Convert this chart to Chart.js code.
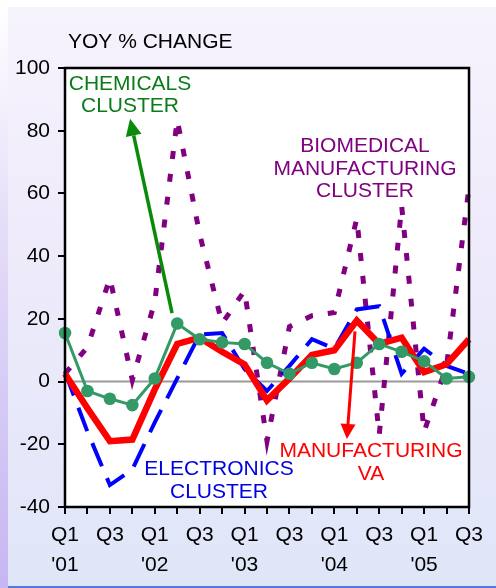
<!DOCTYPE html>
<html>
<head>
<meta charset="utf-8">
<script src="https://cdn.jsdelivr.net/npm/chart.js@4.4.0/dist/chart.umd.min.js"></script>
<style>
  html, body { margin: 0; padding: 0; }
  body {
    width: 496px; height: 588px; overflow: hidden; position: relative;
    background: #ffffff;
  }
  #bg {
    position: absolute; left: 8px; top: 7px; right: 0; bottom: 0;
    background: linear-gradient(to bottom, #f6f3fd 0%, #efebfb 40%, #dfe6f8 100%);
    border-bottom: 2px solid #5478e0;
  }
  #strip {
    position: absolute; left: 0; top: 0; width: 8px; bottom: 0;
    background: linear-gradient(to bottom, #ffffff 0%, #e4dcf8 40%, #c6b6f2 100%);
  }
  canvas { display: block; position: absolute; left: 0; top: 0; }
</style>
</head>
<body>
<div id="strip"></div>
<div id="bg"></div>
<canvas id="myChart" width="496" height="588"></canvas>
<script>
var quarters = ["Q1 '01", "Q2 '01", "Q3 '01", "Q4 '01", "Q1 '02", "Q2 '02", "Q3 '02", "Q4 '02",
                "Q1 '03", "Q2 '03", "Q3 '03", "Q4 '03", "Q1 '04", "Q2 '04", "Q3 '04", "Q4 '04",
                "Q1 '05", "Q2 '05", "Q3 '05"];
var chemicals = [15.5, -3, -5.5, -7.5, 1, 18.5, 13.5, 12.5, 12, 6, 2.5, 6, 4, 6, 12, 9.5, 6.5, 1, 1.5];
var manufacturingVA = [2.5, -8.5, -19, -18.5, -2.5, 12, 14, 9.5, 5.5, -6, 1, 8.5, 10, 19.5, 12, 14, 3, 5.5, 13.5];
var electronics = [3, -16, -33, -28, -13, 1, 15, 15.5, 4, -3, 5, 13.5, 10.5, 23, 24, 2.5, 10.5, 5, 2.5];
var biomedical = [2.5, 11, 33, 0.5, 25.5, 83.5, 47, 18.5, 29, -19, 17.5, 21, 22, 52, -17, 56, -16, 5, 62];
var yTicks = [-40, -20, 0, 20, 40, 60, 80, 100];

var FONT = '"Liberation Sans", Arial, sans-serif';

function drawArrow(ctx, x1, y1, x2, y2, color, width, headLen, headW) {
  var ang = Math.atan2(y2 - y1, x2 - x1);
  var bx = x2 - headLen * Math.cos(ang), by = y2 - headLen * Math.sin(ang);
  ctx.save();
  ctx.strokeStyle = color;
  ctx.fillStyle = color;
  ctx.lineWidth = width;
  ctx.beginPath();
  ctx.moveTo(x1, y1);
  ctx.lineTo(bx, by);
  ctx.stroke();
  ctx.beginPath();
  ctx.moveTo(x2, y2);
  ctx.lineTo(bx + headW / 2 * Math.sin(ang), by - headW / 2 * Math.cos(ang));
  ctx.lineTo(bx - headW / 2 * Math.sin(ang), by + headW / 2 * Math.cos(ang));
  ctx.closePath();
  ctx.fill();
  ctx.restore();
}

function drawLines(ctx, lines, cx, cy, color) {
  ctx.save();
  ctx.font = '21px ' + FONT;
  ctx.fillStyle = color;
  ctx.textAlign = 'center';
  ctx.textBaseline = 'middle';
  lines.forEach(function (t, i) { ctx.fillText(t, cx, cy + i * 22.5); });
  ctx.restore();
}

var framePlugin = {
  id: 'frame',
  beforeDraw: function (chart) {
    var ctx = chart.ctx, a = chart.chartArea;
    ctx.save();
    ctx.fillStyle = '#ffffff';
    ctx.fillRect(a.left, a.top, a.right - a.left, a.bottom - a.top);
    ctx.restore();
  },
  beforeDatasetsDraw: function (chart) {
    var ctx = chart.ctx, a = chart.chartArea;
    var y0 = chart.scales.y.getPixelForValue(0);
    ctx.save();
    ctx.strokeStyle = '#999999';
    ctx.lineWidth = 2;
    ctx.beginPath();
    ctx.moveTo(a.left, y0);
    ctx.lineTo(a.right, y0);
    ctx.stroke();
    ctx.restore();
  },
  afterDatasetsDraw: function (chart) {
    var ctx = chart.ctx, a = chart.chartArea;
    var xs = chart.scales.x, ys = chart.scales.y;
    ctx.save();
    ctx.strokeStyle = '#000000';
    ctx.lineWidth = 2.5;
    ctx.strokeRect(a.left, a.top, a.right - a.left, a.bottom - a.top);
    ctx.restore();

    // title
    ctx.save();
    ctx.font = '21px ' + FONT;
    ctx.fillStyle = '#000000';
    ctx.textBaseline = 'middle';
    ctx.fillText('YOY % CHANGE', 68, 42);
    ctx.restore();

    // annotations
    drawLines(ctx, ['CHEMICALS', 'CLUSTER'], 130, 84, '#0a7d1a');
    drawLines(ctx, ['BIOMEDICAL', 'MANUFACTURING', 'CLUSTER'], 365, 146.5, '#800080');
    drawLines(ctx, ['ELECTRONICS', 'CLUSTER'], 219, 469.5, '#0000e0');
    drawLines(ctx, ['MANUFACTURING', 'VA'], 371, 451.5, '#ff0000');

    drawArrow(ctx, xs.getPixelForValue(4.77), ys.getPixelForValue(21.8),
              xs.getPixelForValue(2.9), ys.getPixelForValue(83.8), '#0a8a0a', 3.5, 17, 16);
    drawArrow(ctx, xs.getPixelForValue(12.92), ys.getPixelForValue(16),
              xs.getPixelForValue(12.56), ys.getPixelForValue(-18.3), '#ff0000', 3, 15, 15);
  }
};

new Chart('myChart', {
  type: 'line',
  data: {
    labels: quarters,
    datasets: [{
      label: 'Chemicals cluster',
      data: chemicals,
      borderColor: '#339966',
      backgroundColor: '#339966',
      borderWidth: 3,
      pointRadius: 6.3,
      pointHoverRadius: 6.3,
      pointBorderWidth: 0,
      tension: 0,
      fill: false
    }, {
      label: 'Manufacturing VA',
      data: manufacturingVA,
      borderColor: '#ff0000',
      borderWidth: 6.5,
      pointRadius: 0,
      tension: 0,
      borderJoinStyle: 'miter',
      fill: false
    }, {
      label: 'Electronics cluster',
      data: electronics,
      borderColor: '#0000ff',
      borderWidth: 4,
      borderDash: [25, 13],
      pointRadius: 0,
      tension: 0,
      fill: false
    }, {
      label: 'Biomedical manufacturing cluster',
      data: biomedical,
      borderColor: '#800080',
      borderWidth: 5,
      borderDash: [8, 15],
      pointRadius: 0,
      tension: 0,
      fill: false
    }]
  },
  options: {
    responsive: false,
    devicePixelRatio: 1,
    animation: false,
    layout: { padding: { top: 68, right: 27, left: 0, bottom: 0 } },
    plugins: {
      legend: { display: false },
      title: { display: false },
      tooltip: { enabled: false }
    },
    scales: {
      x: {
        offset: false,
        afterFit: function (scale) { scale.height = 81; },
        grid: { drawOnChartArea: false, drawTicks: true, tickLength: 7, color: '#000000', lineWidth: 2 },
        border: { display: false },
        ticks: {
          autoSkip: false,
          maxRotation: 0,
          minRotation: 0,
          padding: 6.5,
          color: '#000000',
          font: { family: FONT, size: 21, lineHeight: 1.42 },
          callback: function (value, index) {
            var parts = quarters[index].split(' ');
            if (parts[0] === 'Q1') return [parts[0], parts[1]];
            if (parts[0] === 'Q3') return parts[0];
            return '';
          }
        }
      },
      y: {
        min: yTicks[0],
        max: yTicks[yTicks.length - 1],
        afterFit: function (scale) { scale.width = 65; },
        afterBuildTicks: function (scale) {
          scale.ticks = yTicks.map(function (v) { return { value: v }; });
        },
        grid: { drawOnChartArea: false, drawTicks: true, tickLength: 7, color: '#000000', lineWidth: 2 },
        border: { display: false },
        ticks: {
          padding: 8,
          color: '#000000',
          font: { family: FONT, size: 21 }
        }
      }
    }
  },
  plugins: [framePlugin]
});
</script>
</body>
</html>
